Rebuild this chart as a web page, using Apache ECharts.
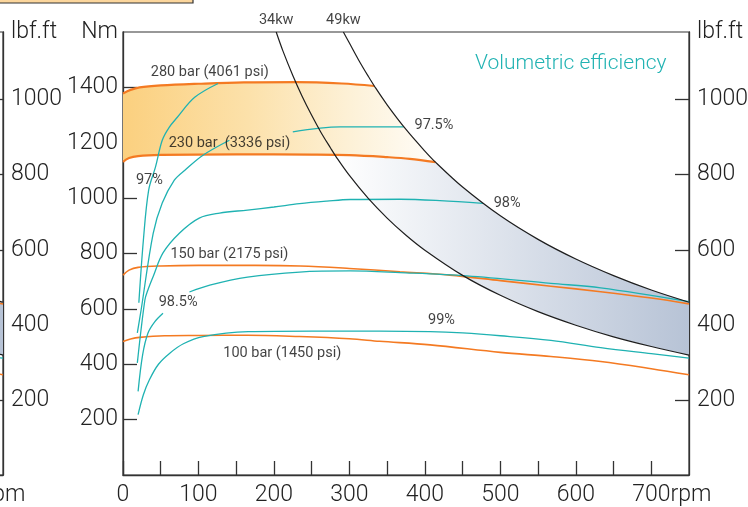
<!DOCTYPE html>
<html><head><meta charset="utf-8">
<script src="https://cdn.jsdelivr.net/npm/echarts@6/dist/echarts.min.js"></script>
<style>html,body{margin:0;padding:0;background:#fff}#c{width:748px;height:507px}</style>
</head><body><div id="c"></div>
<script>
// ---------- data (x = rpm, y = Nm) ----------
const xTickLabels = [0,100,200,300,400,500,600,700];
const nmTickLabels = [200,400,600,800,1000,1200,1400];
const lbfTickLabels = [200,400,600,800,1000];

const bar280 = [[0,1378],[10,1391],[22,1400],[50,1407],[100,1413],[160,1418],[230,1419],[290,1414],[333,1405]];
const bar230 = [[0,1131],[8,1145],[20,1152],[50,1156],[150,1158],[250,1157],[300,1155],[350,1148],[380,1142],[414,1130]];
const bar150 = [[0,722],[8,740],[20,750],[50,755],[100,757],[175,757],[235,755],[300,746],[367,734],[433,722],[500,702],[567,682],[633,662],[700,639],[750,618]];
const bar100 = [[0,482],[10,491],[22,497],[55,503],[101,504],[165,505],[234,500],[300,492],[340,483],[407,470],[500,443],[567,428],[633,410],[700,384],[750,362]];

const kw34 = [[203,1600],[212,1531],[225,1443],[237,1370],[250,1299],[262,1239],[275,1181],[282,1151],[300,1082],[325,999],[350,928],[375,866],[400,812],[450,721],[500,649],[550,590],[600,541],[650,499],[700,464],[750,433]];
const kw49 = [[292,1600],[300,1560],[312,1500],[325,1440],[333,1405],[350,1337],[375,1248],[400,1170],[414,1130],[450,1040],[500,936],[550,851],[600,780],[650,720],[700,668],[750,624]];

const eff97  = [[21,622],[27,848],[34,1029],[43,1112],[52,1209],[61,1255],[72,1292],[95,1364],[126,1414]];
const eff975 = [[19,513],[24,596],[40,873],[52,982],[68,1065],[82,1101],[106,1155],[141,1209],[183,'-'],[225,1239],[288,1257],[372,1257]];
const eff98  = [[19,405],[29,632],[33,668],[40,717],[53,802],[75,874],[101,928],[128,946],[165,957],[200,968],[234,980],[270,989],[301,995],[367,996],[420,991],[477,981]];
const eff985 = [[20,302],[26,434],[33,512],[42,553],[53,584],[70,'-'],[88,661],[115,686],[165,715],[234,733],[301,737],[367,731],[456,719],[567,692],[633,676],[750,626]];
const eff99  = [[20,218],[27,290],[35,344],[47,400],[62,440],[80,474],[106,500],[166,518],[250,520],[340,520],[407,518],[450,513],[500,503],[567,486],[633,460],[700,438],[750,422]];

const annotationTexts = ['280 bar (4061 psi)','230 bar  (3336 psi)','150 bar (2175 psi)','100 bar (1450 psi)','97%','97.5%','98%','98.5%','99%','34kw','49kw'];
// ---------- layout (annotation anchors in axis units) ----------
const annotationAnchors = [[115,1454],[141,1198],[141,798],[211,438],[35,1065],[412,1263],[509,982],[73,622],[422,560],[203,1641],[292,1641]];

const FF = "Roboto, 'Liberation Sans', sans-serif";
const ORANGE = '#f47a22', CYAN = '#1fb2b2', INK = '#1e1e1e', AX = '#333';
const NM_MAX = 1600, LBF_MAX = 1600 / 1.35582;
const AXFS = 23;

const orangePoly = () => bar280.concat(kw49.filter(p => p[0] > 333 && p[0] < 414)).concat(bar230.slice().reverse());
const bluePoly = () => kw49.filter(p => p[0] >= 414)
  .concat(kw34.filter(p => p[0] >= 282).reverse())
  .concat(bar230.filter(p => p[0] > 282 && p[0] < 414));

function polySeries(gi, ptsFn, stops, z){
  return {type:'custom', xAxisIndex:gi, yAxisIndex:gi*2, z:z, silent:true, data:[[0,0]],
    renderItem:(params, api) => ({type:'polygon', shape:{points: ptsFn().map(p => api.coord(p))},
      style:{fill:new echarts.graphic.LinearGradient(0,0,1,0,stops), stroke:null}})};
}
function lineSeries(gi, data, color, width, z){
  return {type:'line', xAxisIndex:gi, yAxisIndex:gi*2, data:data, symbol:'none', showSymbol:false,
    smooth:0.35, connectNulls:false, silent:true, z:z, lineStyle:{color:color, width:width}};
}
const orangeStops = [{offset:0,color:'#fbd07f'},{offset:0.4,color:'#fce1aa'},{offset:0.75,color:'#fdf2da'},{offset:1,color:'#fffdf9'}];
const blueStops = [{offset:0,color:'#ffffff'},{offset:1,color:'#b7c3d6'}];

function xAxisCfg(gi){
  return {type:'value', gridIndex:gi, min:0, max:750, interval:50,
    axisLine:{lineStyle:{color:AX, width:1.3}},
    axisTick:{inside:true, length:14, lineStyle:{color:AX, width:1.3}},
    splitLine:{show:false},
    axisLabel:{fontSize:AXFS, color:'#222', fontFamily:FF, fontWeight:300, margin:9, showMaxLabel:false,
      formatter:v => xTickLabels.includes(v) ? (v === 700 ? '{h|rpm}700rpm' : String(v)) : '',
      rich:{h:{color:'rgba(0,0,0,0)', fontSize:AXFS, fontFamily:FF, fontWeight:300}}}};
}
function yAxisCfg(gi, pos, max, labels, name, margin){
  return {type:'value', gridIndex:gi, position:pos, min:0, max:max, interval:200,
    name:name, nameLocation:'end', nameGap:0,
    nameTextStyle:{fontSize:AXFS, color:'#222', fontFamily:FF, fontWeight:300, verticalAlign:'middle',
      align: pos === 'left' ? 'right' : 'left', padding: pos === 'left' ? [0,5,0,0] : [0,0,0,margin]},
    axisLine:{show:true, lineStyle:{color:AX, width:1.3}},
    axisTick:{show:true, inside:true, length:14, lineStyle:{color:AX, width:1.3}},
    splitLine:{show:false},
    axisLabel:{fontSize:AXFS, color:'#222', fontFamily:FF, fontWeight:300, margin:margin, showMaxLabel:false, showMinLabel:false,
      formatter:v => labels.includes(v) ? String(v) : ''}};
}

const series = [
  polySeries(0, orangePoly, orangeStops, 1),
  polySeries(0, bluePoly, blueStops, 1),
  lineSeries(0, bar280, ORANGE, 2.2, 3),
  lineSeries(0, bar230, ORANGE, 2.2, 3),
  lineSeries(0, bar150, ORANGE, 1.6, 3),
  lineSeries(0, bar100, ORANGE, 1.6, 3),
  lineSeries(0, eff97, CYAN, 1.3, 4),
  lineSeries(0, eff975, CYAN, 1.3, 4),
  lineSeries(0, eff98, CYAN, 1.3, 4),
  lineSeries(0, eff985, CYAN, 1.3, 4),
  lineSeries(0, eff99, CYAN, 1.3, 4),
  lineSeries(0, kw34, INK, 1.2, 5),
  lineSeries(0, kw49, INK, 1.2, 5),
  {type:'scatter', xAxisIndex:0, yAxisIndex:0, silent:true, clip:false, symbolSize:0, z:6,
    data: annotationAnchors.map((p,i) => ({value:p, label:{formatter:annotationTexts[i]}})),
    label:{show:true, position:'inside', fontSize:14.5, color:'#111', fontFamily:FF}},
  // left neighbour panel (only its right edge is visible)
  polySeries(1, bluePoly, blueStops, 1),
  lineSeries(1, bar150, ORANGE, 1.6, 3),
  lineSeries(1, bar100, ORANGE, 1.6, 3),
  lineSeries(1, eff98, CYAN, 1.3, 4),
  lineSeries(1, eff99, CYAN, 1.3, 4),
  lineSeries(1, kw34, INK, 1.2, 5),
  lineSeries(1, kw49, INK, 1.2, 5)
];

const chart = echarts.init(document.getElementById('c'), null, {renderer:'canvas'});
chart.setOption({
  animation:false,
  backgroundColor:'#fff',
  title:{text:'Volumetric efficiency', left:470, top:48,
    textStyle:{color:'#22b3b3', fontSize:21, fontWeight:300, fontFamily:FF}},
  graphic:[{type:'rect', shape:{x:-4, y:-20, width:197, height:23},
    style:{fill:'#fcd69c', stroke:'#333', lineWidth:1.2}, silent:true}],
  grid:[
    {left:123, right:59, top:32, bottom:32, show:true, borderColor:AX, borderWidth:1.2,
      backgroundColor:'transparent', containLabel:false, outerBoundsMode:'none'},
    {left:-563, right:745, top:32, bottom:32, show:true, borderColor:AX, borderWidth:1.2,
      backgroundColor:'transparent', containLabel:false, outerBoundsMode:'none'}
  ],
  xAxis:[xAxisCfg(0), xAxisCfg(1)],
  yAxis:[
    yAxisCfg(0,'left',NM_MAX,nmTickLabels,'Nm',5),
    yAxisCfg(0,'right',LBF_MAX,lbfTickLabels,'lbf.ft',8),
    yAxisCfg(1,'left',NM_MAX,[],'',5),
    yAxisCfg(1,'right',LBF_MAX,lbfTickLabels,'lbf.ft',8)
  ],
  series: series
});
</script></body></html>
